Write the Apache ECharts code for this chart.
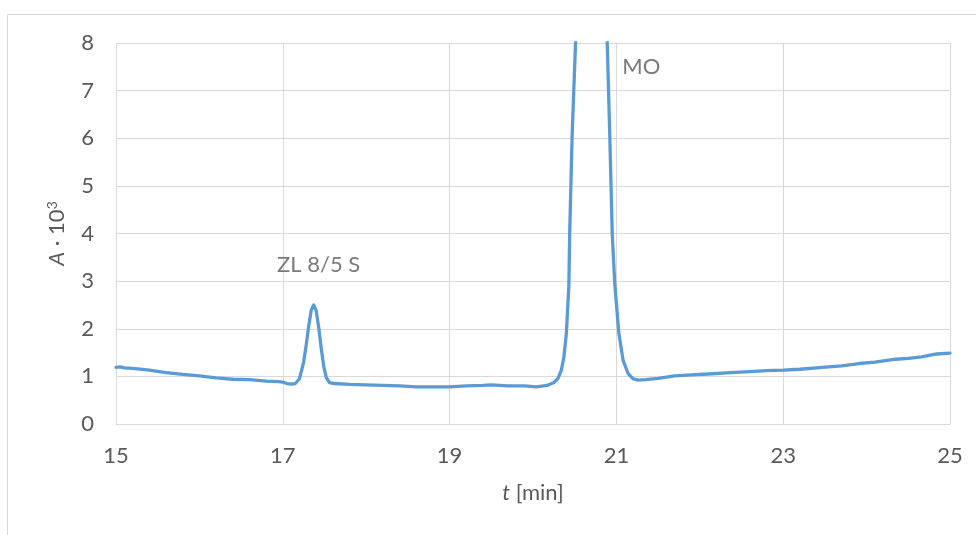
<!DOCTYPE html>
<html>
<head>
<meta charset="utf-8">
<script src="https://cdn.jsdelivr.net/npm/echarts@6/dist/echarts.min.js"></script>
<style>
html,body{margin:0;padding:0;background:#fff;}
#main{width:976px;height:535px;}
</style>
</head>
<body>
<div id="main"></div>
<script>
// time [min]
var times = [15.00,15.05,15.10,15.20,15.40,15.60,15.80,16.00,16.20,16.40,16.60,16.80,16.95,17.00,17.05,17.10,17.15,17.20,17.25,17.28,17.31,17.34,17.37,17.40,17.43,17.46,17.49,17.52,17.56,17.62,17.80,18.00,18.20,18.40,18.60,18.80,19.00,19.20,19.40,19.50,19.70,19.90,20.04,20.17,20.25,20.30,20.34,20.37,20.40,20.43,20.44,20.47,20.51,20.55,20.62,20.70,20.78,20.85,20.89,20.92,20.95,20.98,21.03,21.08,21.14,21.20,21.26,21.35,21.50,21.70,21.90,22.10,22.37,22.60,22.80,23.00,23.20,23.47,23.70,23.91,24.10,24.35,24.50,24.66,24.84,25.00];
// absorbance A·10^3
var absorbance = [1.19,1.20,1.18,1.17,1.13,1.08,1.04,1.01,0.97,0.94,0.93,0.90,0.89,0.88,0.85,0.84,0.85,0.95,1.30,1.65,2.05,2.38,2.50,2.38,2.03,1.60,1.22,0.98,0.87,0.85,0.83,0.82,0.81,0.80,0.78,0.78,0.78,0.80,0.81,0.82,0.80,0.80,0.78,0.81,0.87,0.96,1.13,1.40,1.90,2.90,4.00,6.10,8.00,12.0,20.0,24.0,20.0,12.0,8.00,6.10,4.00,2.95,1.90,1.34,1.06,0.95,0.92,0.93,0.96,1.01,1.03,1.05,1.08,1.10,1.12,1.13,1.15,1.19,1.22,1.27,1.30,1.36,1.38,1.41,1.47,1.49];
// peak annotations
var annotationText = ['ZL 8/5 S', 'MO'];
var annotationX = [17.43, 21.07];
var annotationY = [3.34, 7.5];

var xMin = 15, xMax = 25, xStep = 2;
var yMin = 0, yMax = 8, yStep = 1;

var chart = echarts.init(document.getElementById('main'), null, {renderer:'canvas'});
var FONT = 'Lato';
var FS = 22;
var TXT = '#595959';
var GRID = '#d9d9d9';

var lineData = times.map(function(t, i){ return [t, absorbance[i]]; });

chart.setOption({
  backgroundColor: '#ffffff',
  animation: false,
  graphic: [{
    type: 'rect',
    shape: {x: 7.5, y: 14.5, width: 1100, height: 700},
    style: {fill: 'none', stroke: GRID, lineWidth: 1},
    silent: true, z: -10
  }],
  grid: {left: 116, right: 26, top: 43, bottom: 111, containLabel: false},
  xAxis: {
    type: 'value', min: xMin, max: xMax, interval: xStep,
    name: '{i|t} [min]', nameLocation: 'middle', nameGap: 58,
    nameTextStyle: {fontFamily: FONT, fontSize: FS, color: TXT,
      rich: {i: {fontFamily: FONT, fontSize: FS, fontStyle: 'italic', color: TXT}}},
    axisLine: {show: true, lineStyle: {color: GRID, width: 1}},
    axisTick: {show: false},
    axisLabel: {fontFamily: FONT, fontSize: FS, color: TXT, margin: 21},
    splitLine: {show: true, lineStyle: {color: GRID, width: 1}}
  },
  yAxis: {
    type: 'value', min: yMin, max: yMax, interval: yStep,
    name: '{i|A} · 10{s|3}', nameLocation: 'middle', nameGap: 47, nameRotate: 90,
    nameTextStyle: {fontFamily: FONT, fontSize: FS, color: TXT,
      rich: {
        i: {fontFamily: FONT, fontSize: FS, fontStyle: 'italic', color: TXT},
        s: {fontFamily: FONT, fontSize: 14, color: TXT, padding: [0,0,10,0]}
      }},
    axisLine: {show: true, lineStyle: {color: GRID, width: 1}},
    axisTick: {show: false},
    axisLabel: {fontFamily: FONT, fontSize: FS, color: TXT, margin: 22},
    splitLine: {show: true, lineStyle: {color: GRID, width: 1}}
  },
  series: [{
    type: 'line',
    data: lineData,
    showSymbol: false,
    symbol: 'none',
    clip: true,
    lineStyle: {color: '#5b9bd5', width: 3.3, join: 'round', cap: 'round'},
    z: 5
  }, {
    type: 'scatter',
    symbolSize: 0,
    silent: true,
    data: [
      {value: [annotationX[0], annotationY[0]], label: {show: true, position: 'inside', formatter: annotationText[0]}},
      {value: [annotationX[1], annotationY[1]], label: {show: true, position: 'right', distance: 0, formatter: annotationText[1]}}
    ],
    label: {fontFamily: FONT, fontSize: FS, color: TXT},
    z: 6
  }]
});
</script>
</body>
</html>
